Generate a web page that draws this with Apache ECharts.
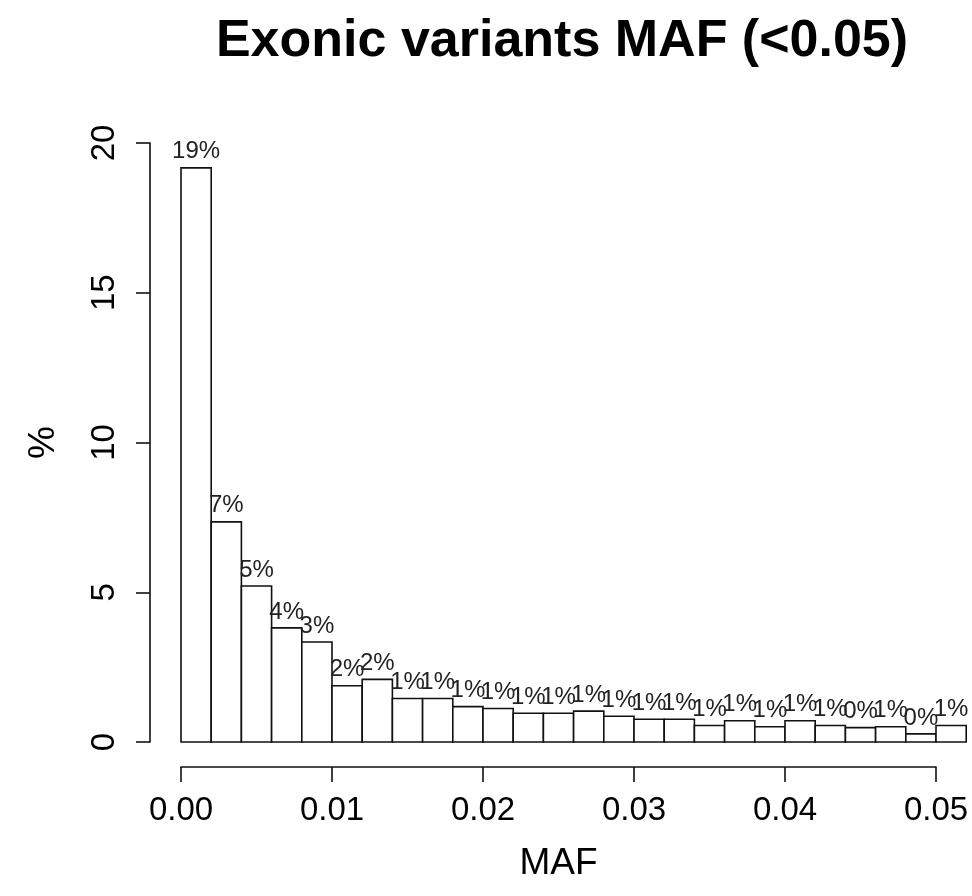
<!DOCTYPE html>
<html>
<head>
<meta charset="utf-8">
<script src="https://cdn.jsdelivr.net/npm/echarts@6/dist/echarts.min.js"></script>
<style>
html,body{margin:0;padding:0;background:#fff;}
#chart{width:972px;height:896px;}
</style>
</head>
<body>
<div id="chart"></div>
<script>
// Bin edges (MAF), 26 bins of width 0.002
var binEdges = [0, 0.002, 0.004, 0.006, 0.008, 0.010, 0.012, 0.014, 0.016, 0.018,
                0.020, 0.022, 0.024, 0.026, 0.028, 0.030, 0.032, 0.034, 0.036, 0.038,
                0.040, 0.042, 0.044, 0.046, 0.048, 0.050, 0.052];
// Percentage of variants per bin
var percents = [19.17, 7.35, 5.21, 3.81, 3.34, 1.88, 2.09, 1.45, 1.45, 1.18,
                1.12, 0.96, 0.96, 1.03, 0.86, 0.76, 0.76, 0.55, 0.71, 0.51,
                0.71, 0.55, 0.48, 0.51, 0.27, 0.55];
var xTicks = [0, 0.01, 0.02, 0.03, 0.04, 0.05];
var yTicks = [0, 5, 10, 15, 20];
var titleText = 'Exonic variants MAF (<0.05)';
var xName = 'MAF';
var yName = '%';

var FONT = '"Liberation Sans", Arial, sans-serif';
var data = [];
for (var i = 0; i < percents.length; i++) {
  data.push([binEdges[i], binEdges[i + 1], percents[i]]);
}

var chart = echarts.init(document.getElementById('chart'), null, {renderer: 'canvas'});
chart.setOption({
  animation: false,
  backgroundColor: '#fff',
  title: {
    text: titleText,
    left: 557,
    textAlign: 'center',
    top: 11,
    textStyle: {fontFamily: FONT, fontSize: 52, fontWeight: 'bold', color: '#000'}
  },
  grid: {left: 181, right: 36, top: 143, bottom: 154, containLabel: false},
  xAxis: {
    type: 'value',
    min: xTicks[0],
    max: xTicks[xTicks.length - 1],
    interval: 0.01,
    offset: 25,
    name: xName,
    nameLocation: 'middle',
    nameGap: 78,
    nameTextStyle: {fontFamily: FONT, fontSize: 37, color: '#000'},
    axisLine: {show: true, onZero: false, lineStyle: {color: '#111', width: 1.6}},
    axisTick: {show: true, length: 15, lineStyle: {color: '#111', width: 1.6}},
    axisLabel: {
      margin: 27,
      fontFamily: FONT, fontSize: 33, color: '#000',
      formatter: function (v) { return v.toFixed(2); }
    },
    splitLine: {show: false}
  },
  yAxis: {
    type: 'value',
    min: yTicks[0],
    max: yTicks[yTicks.length - 1],
    interval: 5,
    offset: 31,
    name: yName,
    nameLocation: 'middle',
    nameRotate: 90,
    nameGap: 88,
    nameTextStyle: {fontFamily: FONT, fontSize: 37, color: '#000'},
    axisLine: {show: true, onZero: false, lineStyle: {color: '#111', width: 1.6}},
    axisTick: {show: true, length: 14, lineStyle: {color: '#111', width: 1.6}},
    axisLabel: {
      margin: 29, rotate: 90,
      fontFamily: FONT, fontSize: 33, color: '#000'
    },
    splitLine: {show: false}
  },
  series: [{
    type: 'custom',
    clip: false,
    data: data,
    encode: {x: [0, 1], y: 2},
    renderItem: function (params, api) {
      var x0 = api.value(0), x1 = api.value(1), v = api.value(2);
      var p0 = api.coord([x0, v]);
      var p1 = api.coord([x1, 0]);
      return {
        type: 'group',
        children: [
          {
            type: 'rect',
            shape: {x: p0[0], y: p0[1], width: p1[0] - p0[0], height: p1[1] - p0[1]},
            style: {fill: '#fff', stroke: '#111', lineWidth: 1.6}
          },
          {
            type: 'text',
            x: (p0[0] + p1[0]) / 2,
            y: p0[1] - 16,
            style: {
              text: Math.round(v) + '%',
              fill: '#222',
              font: '24px ' + FONT,
              align: 'center', verticalAlign: 'middle',
              textAlign: 'center', textVerticalAlign: 'middle'
            }
          }
        ]
      };
    }
  }]
});
</script>
</body>
</html>
